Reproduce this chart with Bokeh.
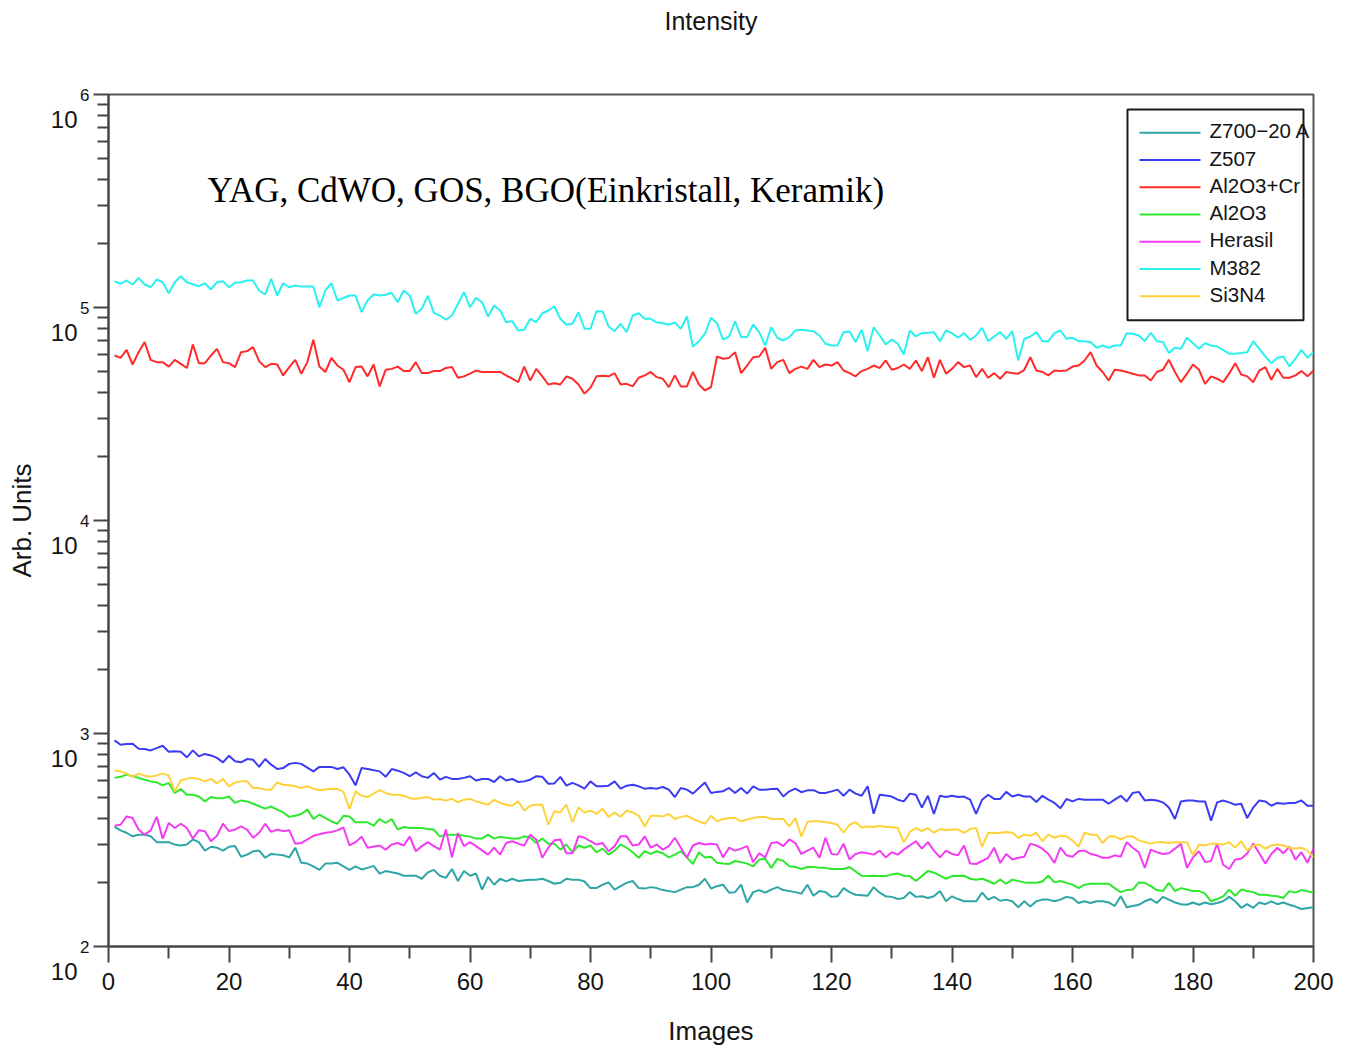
from bokeh.embed import file_html
from bokeh.models import FixedTicker, Label, LinearAxis, LogAxis, Range1d
from bokeh.plotting import figure
from bokeh.resources import INLINE

# ---------------------------------------------------------------- data
series_names = ["Z700−20 A", "Z507", "Al2O3+Cr", "Al2O3", "Herasil", "M382", "Si3N4"]
series_colors = ["#2ea6a6", "#3b3bf2", "#ff2b2b", "#2ee82e", "#f23cf2", "#2cf0f0", "#fdd23a"]

z700_img = list(range(1, 69)) + list(range(70, 93)) + list(range(94, 113)) + \
    list(range(114, 125)) + list(range(126, 199)) + [200]
z700_val = [
    364, 351, 342, 329, 335, 335, 329, 309, 309, 309,
    301, 298, 301, 318, 309, 282, 294, 291, 282, 294,
    296, 264, 270, 280, 282, 261, 272, 270, 268, 262,
    291, 247, 245, 238, 229, 245, 245, 247, 238, 229,
    238, 230, 234, 239, 220, 226, 223, 220, 215, 215,
    215, 208, 223, 229, 215, 210, 231, 203, 226, 215,
    220, 185, 212, 195, 208, 202, 208, 203,
    206, 206, 208, 203, 197, 199, 208, 206, 206, 202,
    188, 188, 195, 200, 185, 192, 199, 203, 188, 187,
    190, 188, 184,
    180, 185, 190, 190, 195, 208, 187, 192, 195, 179,
    180, 195, 161, 180, 184, 179, 185, 190, 184,
    180, 177, 195, 173, 182, 180, 171, 172, 188, 180, 175,
    173, 190, 179, 172, 171,
    167, 169, 180, 171, 172, 169, 172, 182, 163, 172,
    167, 163, 163, 163, 179, 166, 171, 164, 166, 163,
    153, 163, 154, 163, 166, 166, 163, 166, 171, 169,
    160, 163, 160, 163, 163, 161, 155, 172, 153, 155,
    157, 163, 167, 160, 171, 166, 161, 158, 157, 161,
    157, 161, 158, 160, 163, 171, 163, 152, 158, 152,
    161, 158, 163, 158, 161, 157, 154, 150,
    153,
]

z507_img = list(range(1, 33)) + [34, 35] + list(range(37, 44)) + list(range(45, 201))
z507_val = [
    928, 885, 892, 895, 848, 845, 833, 854, 876, 821,
    826, 821, 773, 833, 781, 802, 789, 768, 732, 786,
    740, 732, 759, 753, 697, 759, 714, 681, 688, 720,
    728, 720,
    664, 697,
    697, 681, 694, 641, 571, 688, 681,
    664, 626, 681, 669, 653, 630, 657, 630, 619, 653,
    607, 626, 612, 612, 619, 630, 602, 612, 612, 592,
    630, 602, 612, 592, 596, 607, 630, 626, 581, 583,
    626, 569, 586, 571, 551, 596, 565, 565, 569, 596,
    551, 569, 575, 565, 551, 555, 551, 561, 545, 503,
    555, 545, 522, 555, 589, 526, 532, 535, 555, 526,
    555, 522, 565, 545, 545, 549, 551, 506, 535, 551,
    530, 541, 542, 526, 526, 535, 545, 510, 545, 522,
    510, 565, 420, 516, 512, 506,
    489, 480, 522, 516, 449, 510, 419, 510, 503, 510,
    503, 506, 489, 419, 489, 516, 493, 493, 532, 506,
    516, 506, 506, 477, 510, 489, 472, 446, 493, 480,
    493, 489, 489, 489, 489, 468, 489, 510, 480, 526,
    532, 485, 489, 485, 475, 449, 397, 480, 485, 485,
    480, 480, 390, 475, 485, 475, 463, 468, 401, 449,
    485, 480, 458, 472, 468, 472, 472, 485, 458, 458,
]

al2o3cr_img = list(range(1, 64)) + list(range(65, 201))
al2o3cr_val = [v * 1000 for v in [
    59.5, 58.0, 63.3, 54.0, 61.7, 68.8, 56.8, 55.4, 55.4, 52.8,
    56.8, 54.4, 52.0, 67.1, 54.8, 54.8, 59.5, 63.9, 55.4, 54.8,
    52.5, 61.7, 62.4, 65.2, 56.0, 52.5, 54.4, 54.0, 48.0, 52.5,
    56.8, 48.9, 55.4, 70.5, 52.8, 49.8, 58.0, 53.4, 51.0, 44.6,
    52.5, 52.8, 47.5, 54.0, 42.6, 51.0, 51.5, 52.8, 50.3, 50.3,
    55.4, 49.2, 49.2, 50.3, 50.3, 52.0, 52.5, 46.8, 47.5, 48.9,
    50.6, 49.8, 49.8,
    49.8, 48.0, 46.3, 44.6, 52.8, 45.4, 51.5, 47.5, 43.5, 44.1,
    43.5, 47.5, 46.3, 43.5, 39.4, 42.0, 47.5, 47.8, 47.5, 49.2,
    43.5, 43.8, 42.6, 46.8, 48.0, 49.8, 47.1, 46.3, 42.3, 48.0,
    42.6, 42.6, 49.8, 43.5, 40.8, 42.3, 58.9, 57.5, 58.0, 61.7,
    49.2, 53.4, 58.4, 58.9, 64.7, 51.5, 55.4, 56.8, 49.2, 51.5,
    52.8, 51.5, 56.8, 52.5, 54.0, 53.4, 55.4, 50.6, 49.2, 47.5,
    50.3, 51.5, 53.4, 52.0, 56.4, 51.0,
    52.0, 54.0, 51.5, 56.4, 50.3, 58.4, 46.8, 56.8, 48.9, 51.5,
    55.4, 52.5, 53.4, 47.1, 51.5, 46.8, 49.2, 46.3, 49.8, 49.2,
    48.9, 51.0, 58.4, 50.6, 49.8, 48.0, 50.6, 50.3, 50.6, 52.8,
    53.4, 56.4, 61.7, 53.4, 49.8, 45.4, 51.0, 50.6, 49.8, 48.9,
    48.0, 48.0, 45.4, 49.8, 51.0, 56.8, 49.8, 44.6, 48.9, 54.0,
    51.0, 43.8, 47.5, 46.3, 44.6, 48.9, 54.8, 48.5, 47.5, 44.6,
    50.6, 52.5, 45.8, 51.5, 46.8, 46.8, 48.0, 50.3, 47.5, 50.6,
]]

al2o3_img = list(range(1, 25)) + list(range(26, 59)) + list(range(60, 124)) + \
    list(range(125, 141)) + list(range(142, 151)) + list(range(152, 164)) + \
    list(range(165, 199)) + [200]
al2o3_val = [
    619, 626, 641, 630, 619, 607, 596, 589, 571, 586,
    526, 549, 516, 516, 506, 480, 503, 497, 497, 506,
    472, 485, 480, 468,
    444, 454, 439, 426, 406, 411, 419, 439, 397, 416,
    401, 387, 377, 411, 408, 383, 383, 383, 369, 397,
    380, 397, 354, 364, 360, 360, 360, 356, 354, 328,
    335, 335, 335,
    328, 321, 321, 335, 321,
    328, 324, 321, 321, 329, 324, 306, 321, 304, 304,
    285, 301, 277, 298, 291, 298, 277, 288, 270, 282,
    301, 291, 277, 261, 280, 272, 280, 274, 262, 270,
    280, 262, 244, 277, 262, 264, 247, 245, 244, 252,
    249, 245, 238, 256, 258, 234, 258, 252, 238, 236,
    231, 236, 236, 234, 234, 231, 231, 231, 236,
    215, 214, 215, 214, 214, 218,
    220, 215, 214, 203, 214, 226, 222, 215, 208, 214,
    215, 208, 206, 208, 203, 197, 206, 197, 206,
    200, 199, 199, 202, 215, 200, 203, 199, 195, 188, 195, 197,
    197, 197, 188, 180, 184, 185, 200, 199, 192,
    184, 182, 199, 182, 188, 185, 182, 182, 177, 163,
    167, 172, 185, 173, 185, 182, 180, 175, 175, 173,
    172, 169, 182, 179, 184,
    179,
]

herasil_img = list(range(1, 35)) + list(range(36, 44)) + list(range(45, 62)) + \
    list(range(63, 133)) + list(range(134, 201))
herasil_val = [
    369, 373, 408, 401, 354, 335, 351, 406, 321, 380,
    360, 377, 360, 321, 351, 348, 312, 331, 377, 348,
    354, 366, 354, 324, 342, 377, 345, 354, 348, 351,
    304, 306, 318, 331,
    342, 345, 351, 362, 298, 309, 328, 291,
    298, 285, 301, 306, 298, 328, 280, 296, 309, 296,
    285, 354, 262, 340, 296, 309, 296,
    270, 291,
    270, 306, 312, 304, 298, 335, 318, 261, 291, 315,
    318, 274, 274, 329, 324, 312, 301, 306, 280, 296,
    329, 329, 298, 301, 329, 291, 301, 285, 296, 324,
    291, 261, 298, 306, 301, 304, 301, 262, 291, 282,
    288, 296, 249, 274, 262, 306, 309, 296, 318, 306,
    272, 282, 291, 261, 324, 272, 270, 304, 256, 272,
    277, 274, 270, 282, 262, 277,
    270, 285,
    312, 288, 309, 282, 262, 282, 272, 268, 298, 245,
    244, 252, 261, 291, 247, 272, 256, 261, 264, 304,
    298, 288, 272, 247, 291, 268, 264, 280, 282, 272,
    268, 261, 261, 268, 264, 309, 291, 277, 234, 285,
    277, 272, 274, 288, 304, 234, 262, 280, 249, 252,
    304, 242, 231, 256, 258, 274, 304, 274, 245, 272,
    291, 274, 294, 256, 277, 247, 288,
]

m382_img = list(range(1, 14)) + list(range(15, 33)) + list(range(34, 39)) + \
    list(range(40, 58)) + list(range(59, 116)) + list(range(117, 136)) + \
    list(range(137, 185)) + list(range(186, 201))
m382_val = [v * 1000 for v in [
    132.8, 129.2, 133.9, 128.2, 137.8, 128.2, 124.5, 135.3, 131.4, 116.7,
    131.4, 140.2, 131.4,
    125.9, 130.0, 121.5, 131.4, 132.8, 124.5, 130.6, 131.4, 133.9, 133.9,
    120.2, 115.1, 136.3, 113.8, 130.0, 124.5, 126.8, 125.5,
    125.5, 100.3, 120.2, 130.0, 107.9,
    113.8, 113.8, 95.1, 107.9, 115.1, 113.8, 114.7, 117.2, 105.9, 120.2,
    113.8, 93.4, 98.6, 113.5, 94.4, 91.7, 87.6, 91.7,
    118.0, 100.3, 111.0, 105.9, 90.7, 102.2,
    96.8, 85.3, 86.3, 78.0, 78.6, 88.5, 85.3, 94.0, 96.8, 101.1,
    88.5, 83.0, 83.9, 95.1, 79.5, 79.5, 96.1, 95.8, 81.5, 77.4,
    83.9, 76.6, 91.7, 94.0, 88.5, 88.5, 85.1, 84.4, 83.0, 85.1,
    79.5, 90.7, 65.6, 69.5, 75.3, 89.5, 84.4, 70.6, 73.1, 86.0,
    72.6, 72.6, 83.2, 76.6, 66.3, 80.8, 72.1, 70.0, 72.6, 78.0, 78.6,
    77.4, 73.9, 67.6, 66.3, 66.3, 76.6, 77.2, 68.8, 78.6, 62.4,
    80.8, 73.9, 67.1, 70.8, 67.6, 60.2, 78.0, 73.1,
    75.8,
    76.6, 69.5, 78.0, 75.8, 72.1, 75.8, 70.6, 73.9, 80.3, 69.5,
    73.1, 76.6, 71.3, 77.4, 56.4, 71.3, 73.1, 76.6, 69.5, 69.5,
    75.8, 78.0, 71.3, 72.1, 69.5, 69.5, 68.8, 64.7, 66.3, 64.7,
    66.3, 66.3, 75.8, 75.3, 73.9, 69.5, 76.1, 69.5, 68.8, 61.1,
    64.7, 64.0, 72.1, 68.0, 64.0, 68.0, 66.3, 65.6,
    60.7, 60.7, 61.1, 61.7, 69.5, 64.0, 58.9, 54.8, 58.1, 58.9,
    52.9, 57.5, 63.3, 58.1, 61.7,
]]

si3n4_img = list(range(1, 36)) + list(range(37, 52)) + list(range(53, 201))
si3n4_val = [
    670, 664, 648, 626, 648, 634, 626, 636, 648, 636,
    535, 602, 614, 619, 612, 596, 612, 583, 612, 565,
    589, 596, 596, 555, 555, 545, 545, 589, 575, 571,
    565, 555, 565, 551, 542,
    551, 549, 532, 442, 535, 510, 503, 522, 542, 526,
    516, 516, 510, 497, 494,
    503, 489, 493, 484, 494, 475, 489, 493, 480, 472,
    463, 489,
    472, 463, 458, 480, 435, 458, 463, 463, 373, 431,
    426, 463, 383, 449, 426, 435, 419, 444, 406, 426,
    406, 435, 426, 411, 366, 411, 411, 408, 419, 397,
    406, 411, 397, 387, 377, 411, 387, 397, 401, 401,
    387, 394, 401, 406, 406, 397, 397, 397, 366, 401,
    328, 385, 387, 387, 383, 380, 373, 342, 373, 383,
    362, 366, 364, 369, 364, 364, 360, 309, 345, 360,
    348, 360, 342, 356, 351, 354, 354, 342, 356, 360,
    294, 342, 340, 342, 345, 342, 324, 335, 331, 342,
    312, 335, 324, 331, 329, 315, 294, 342, 335, 335,
    306, 328, 329, 318, 328, 329, 315, 309, 304, 309,
    309, 306, 309, 309, 309, 268, 301, 298, 304, 304,
    301, 309, 291, 312, 282, 298, 301, 288, 298, 301,
    298, 291, 288, 291, 282, 262,
]

series_img = [z700_img, z507_img, al2o3cr_img, al2o3_img, herasil_img, m382_img, si3n4_img]
series_val = [z700_val, z507_val, al2o3cr_val, al2o3_val, herasil_val, m382_val, si3n4_val]

x_ticks = list(range(0, 201, 20))
x_minor = list(range(10, 200, 20))
y_decades = [2, 3, 4, 5, 6]

# ---------------------------------------------------------------- layout
W, H = 1346, 1048
LEFT, RIGHT, TOP, BOTTOM = 108, 1313, 94, 947
X_LO, X_HI = 0, 200
E_LO, E_HI = 2, 6

FONT = "Liberation Sans"
INK = "#141414"
AXIS = "#444444"


def dx(px):
    """canvas pixel column -> x data value"""
    return X_LO + (px - LEFT) / (RIGHT - LEFT) * (X_HI - X_LO)


def dy(py):
    """canvas pixel row -> y data value on the log axis"""
    return 10 ** (E_HI - (py - TOP) / (BOTTOM - TOP) * (E_HI - E_LO))


def style_ticks(ax, major_out, minor_out):
    ax.axis_line_color = AXIS
    ax.axis_line_width = 2
    ax.major_tick_line_color = AXIS
    ax.major_tick_line_width = 2
    ax.minor_tick_line_color = AXIS
    ax.minor_tick_line_width = 2
    ax.major_tick_in = 0
    ax.major_tick_out = major_out
    ax.minor_tick_in = 0
    ax.minor_tick_out = minor_out


def bare_axis(ax):
    ax.axis_line_color = None
    ax.major_tick_line_color = None
    ax.minor_tick_line_color = None
    ax.major_tick_in = 0
    ax.major_tick_out = 0
    ax.minor_tick_in = 0
    ax.minor_tick_out = 0


def label_font(ax, size):
    ax.axis_label_text_font = FONT
    ax.axis_label_text_font_size = size
    ax.axis_label_text_font_style = "normal"
    ax.axis_label_text_color = INK


p = figure(
    width=W, height=H,
    x_range=Range1d(X_LO, X_HI), y_range=Range1d(10 ** E_LO, 10 ** E_HI),
    y_axis_type="log",
    output_backend="svg", toolbar_location=None, title=None,
    min_border_left=LEFT, min_border_right=W - RIGHT,
    min_border_top=TOP, min_border_bottom=H - BOTTOM,
)
p.background_fill_color = "white"
p.border_fill_color = "white"
p.outline_line_color = "#555555"
p.outline_line_width = 2
p.xgrid.visible = False
p.ygrid.visible = False

xa = p.below[0]
ya = p.left[0]

# x axis
xa.ticker = FixedTicker(ticks=x_ticks, minor_ticks=x_minor)
style_ticks(xa, 16, 12)
xa.major_label_text_font = FONT
xa.major_label_text_font_size = "24px"
xa.major_label_text_color = INK
xa.major_label_standoff = 10
xa.axis_label = "Images"
label_font(xa, "26px")
xa.axis_label_standoff = 23

# y axis: ticks plus the exponent of each decade
ya.ticker = FixedTicker(
    ticks=[10 ** e for e in y_decades],
    minor_ticks=[m * 10 ** e for e in y_decades[:-1] for m in range(2, 10)],
)
style_ticks(ya, 15, 11)
ya.major_label_overrides = {10 ** e: str(e) for e in y_decades}
ya.major_label_text_font = FONT
ya.major_label_text_font_size = "17px"
ya.major_label_text_color = INK
ya.major_label_standoff = 4

# second left axis carrying the base "10", set one line below each decade tick
yb = LogAxis(ticker=FixedTicker(ticks=[10 ** e for e in y_decades], minor_ticks=[]))
bare_axis(yb)
yb.major_label_overrides = {10 ** e: "\u00a0\n\u00a0\n10" for e in y_decades}
yb.major_label_text_font = FONT
yb.major_label_text_font_size = "24px"
yb.major_label_text_color = INK
yb.major_label_text_line_height = 0.94
yb.major_label_standoff = 0
yb.axis_label = "Arb. Units"
label_font(yb, "26px")
yb.axis_label_standoff = 11
p.add_layout(yb, "left")

# heading carried by a bare axis above the frame
top = LinearAxis(ticker=FixedTicker(ticks=[], minor_ticks=[]))
bare_axis(top)
top.major_label_standoff = 0
top.axis_label = "Intensity"
label_font(top, "25px")
top.axis_label_standoff = 60
p.add_layout(top, "above")

# data curves
for img, val, col in zip(series_img, series_val, series_colors):
    p.line(img, val, line_color=col, line_width=2)

p.add_layout(Label(x=dx(207), y=dy(190), text="YAG, CdWO, GOS, BGO(Einkristall, Keramik)",
                   text_align="left", text_baseline="middle", text_font="Liberation Serif",
                   text_font_size="35px", text_color="#000000"))

# legend box with line samples
p.quad(left=[dx(1127)], right=[dx(1303)], top=[dy(109)], bottom=[dy(320)],
       fill_color="white", line_color="#1a1a1a", line_width=2)
row0, row_step = 132.3, 27.3
for k, (name, col) in enumerate(zip(series_names, series_colors)):
    ry = row0 + k * row_step
    p.line([dx(1139), dx(1200)], [dy(ry), dy(ry)], line_color=col, line_width=2)
    p.add_layout(Label(x=dx(1209), y=dy(ry - 2), text=name, text_align="left",
                       text_baseline="middle", text_font=FONT,
                       text_font_size="20.5px", text_color=INK))

open("out.html", "w").write(file_html(p, INLINE))
